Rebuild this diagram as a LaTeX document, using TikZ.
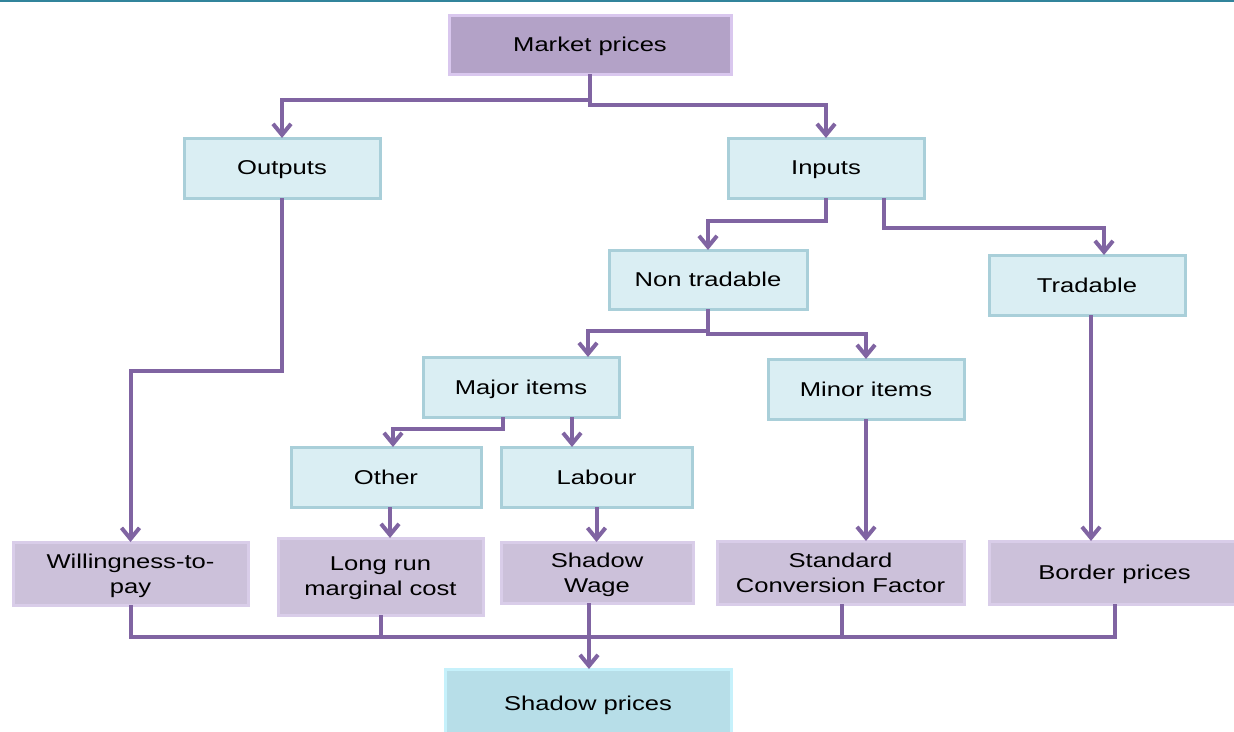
\documentclass[tikz,border=0pt]{standalone}
\usepackage{fontspec}
\setmainfont{Liberation Sans}[FakeStretch=1.28]
\usetikzlibrary{arrows.meta}
\definecolor{lnc}{HTML}{8064A2}
\definecolor{tfill}{HTML}{DAEEF3}
\definecolor{tedge}{HTML}{A9CFD9}
\definecolor{pfill}{HTML}{CCC1DA}
\definecolor{pedge}{HTML}{D9CDE9}
\definecolor{mpfill}{HTML}{B3A2C7}
\definecolor{mpedge}{HTML}{D9C7EE}
\definecolor{spfill}{HTML}{B7DEE8}
\definecolor{spedge}{HTML}{C6F1FB}
\definecolor{topline}{HTML}{31849B}
\begin{document}
\begin{tikzpicture}[x=1pt,y=-1pt,
  box/.style={rectangle, draw, line width=3pt, inner sep=0pt, outer sep=0pt, align=center, text depth=-2.5pt, font=\fontsize{20}{25}\selectfont},
  tbox/.style={box, fill=tfill, draw=tedge},
  pbox/.style={box, fill=pfill, draw=pedge},
  line/.style={draw=lnc, line width=4pt, line join=miter},
  arr/.style={line, -{Straight Barb[length=11pt,width=18pt]}},
]
\useasboundingbox (0,0) rectangle (1234,731);
\draw[topline, line width=1.5pt] (0,0.75) -- (1234,0.75);

% nodes
\node[box, fill=mpfill, draw=mpedge, minimum width=282pt, minimum height=59pt] (mp) at (590,44.5) {Market prices};
\node[tbox, minimum width=196pt, minimum height=60pt] (out) at (282,168) {Outputs};
\node[tbox, minimum width=196pt, minimum height=60pt] (inp) at (826,168) {Inputs};
\node[tbox, minimum width=198pt, minimum height=59pt] (nt) at (708,279.5) {Non tradable};
\node[tbox, minimum width=196pt, minimum height=60pt] (tr) at (1087,285) {Tradable};
\node[tbox, minimum width=196pt, minimum height=60pt] (maj) at (521,387) {Major items};
\node[tbox, minimum width=196pt, minimum height=60pt] (min) at (866,389) {Minor items};
\node[tbox, minimum width=190pt, minimum height=60pt] (oth) at (386,477) {Other};
\node[tbox, minimum width=191pt, minimum height=60pt] (lab) at (596.5,477) {Labour};
\node[pbox, minimum width=235pt, minimum height=63pt] (wtp) at (130.5,573.5) {Willingness-to-\\pay};
\node[pbox, minimum width=205pt, minimum height=77pt] (lrmc) at (380.5,576.5) {Long run\\marginal cost};
\node[pbox, minimum width=192pt, minimum height=61pt] (sw) at (597,572.5) {Shadow\\Wage};
\node[pbox, minimum width=247pt, minimum height=63pt] (scf) at (840.5,572.5) {Standard\\Conversion Factor};
\node[pbox, minimum width=250pt, minimum height=63pt] (bp) at (1114.5,572.5) {Border prices};
\node[box, fill=spfill, draw=spedge, minimum width=286pt, minimum height=68pt] (sp) at (588,703) {Shadow prices};

% helper coordinates
\coordinate (inp2) at ([xshift=58pt]inp.south);
\coordinate (trin) at ([xshift=17pt]tr.north);
\coordinate (majin) at ([xshift=67pt]maj.north);
\coordinate (majL) at ([xshift=-18pt]maj.south);
\coordinate (majR) at ([xshift=51pt]maj.south);
\coordinate (othin) at ([xshift=7pt]oth.north);
\coordinate (othout) at ([xshift=4pt]oth.south);
\coordinate (trout) at ([xshift=4pt]tr.south);
\coordinate (scfout) at ([xshift=1.5pt]scf.south);
\coordinate (swout) at ([xshift=-8pt]sw.south);
\coordinate (bus) at (0,637);

% connectors
\draw[arr] (mp.south) -- ++(0,26) -| (out.north);
\draw[arr] (mp.south) -- ++(0,31) -| (inp.north);
\draw[arr] (out.south) -- ++(0,173) -| (wtp.north);
\draw[arr] (inp.south) -- ++(0,23) -| (nt.north);
\draw[arr] (inp2) -- ++(0,30) -| (trin);
\draw[arr] (nt.south) -- ++(0,22) -| (majin);
\draw[arr] (nt.south) -- ++(0,25) -| (min.north);
\draw[arr] (majL) -- ++(0,12) -| (othin);
\draw[arr] (majR) -- (majR |- lab.north);
\draw[arr] (othout) -- (othout |- lrmc.north);
\draw[arr] (lab.south) -- (lab.south |- sw.north);
\draw[arr] (min.south) -- (min.south |- scf.north);
\draw[arr] (trout) -- (trout |- bp.north);
\draw[line] (wtp.south) |- (bp.south |- bus) -- (bp.south);
\draw[line] (lrmc.south) -- (lrmc.south |- bus);
\draw[line] (scfout) -- (scfout |- bus);
\draw[arr] (swout) -- (swout |- sp.north);
\end{tikzpicture}
\end{document}
